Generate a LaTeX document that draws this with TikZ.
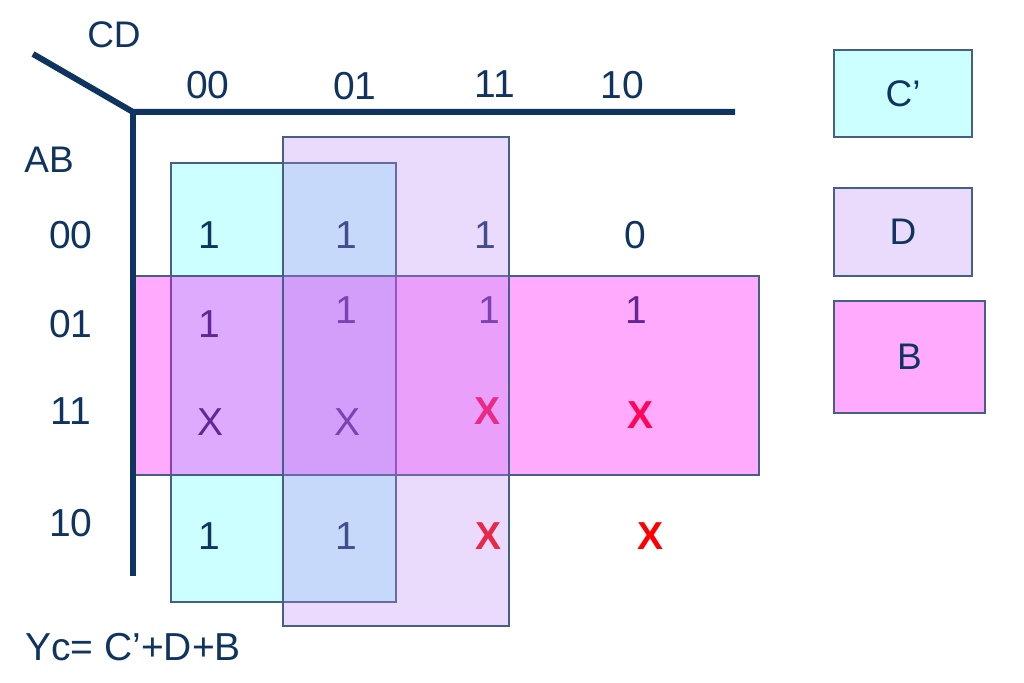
\documentclass[tikz,border=0pt]{standalone}
\usepackage{fontspec}
\setmainfont{Liberation Sans}
\definecolor{navy}{RGB}{16,52,96}
\definecolor{edge}{RGB}{70,95,135}
\definecolor{cyanf}{RGB}{204,255,255}
\definecolor{lavf}{RGB}{234,218,252}
\definecolor{pinkf}{RGB}{255,170,252}
\definecolor{lavt}{RGB}{185,132,245}
\definecolor{pinkt}{RGB}{255,12,250}
\definecolor{xred}{RGB}{255,0,0}
\begin{document}
\begin{tikzpicture}[x=1pt,y=-1pt,
  lbl/.style={inner sep=0pt, text=navy, font=\fontsize{37}{44}\selectfont},
  num/.style={inner sep=0pt, text=navy, font=\fontsize{39}{46}\selectfont},
  dc/.style={inner sep=0pt, text=xred, font=\fontsize{39}{46}\selectfont\bfseries},
  grp/.style={draw=edge, line width=1.2pt},
  key/.style={draw=edge, line width=1.2pt, inner sep=0pt, text=navy, font=\fontsize{37}{44}\selectfont},
  axis/.style={draw=navy, line width=6pt}]
\useasboundingbox (0,0) rectangle (1024,682);

% C' group (under the cell values)
\draw[grp, fill=cyanf] (171,163) rectangle (396,602);

% axis labels
\node[lbl] (cd) at (114,35) {CD};
\node[lbl] (ab) at (49,160) {AB};
\node[num] (c00) at (208,85) {00};
\node[num] (c01) at (355,86) {01};
\node[num] (c11) at (495,84) {11};
\node[num] (c10) at (622,85) {10};
\node[num] (r00) at (71,235) {00};
\node[num] (r01) at (71,324) {01};
\node[num] (r11) at (71,411) {11};
\node[num] (r10) at (71,523) {10};

% cell values
\node[num] (v0000) at (209,235) {1};
\node[num] (v0001) at (346,235) {1};
\node[num] (v0011) at (485,235) {1};
\node[num] (v0010) at (635,235) {0};
\node[num] (v0100) at (209,324) {1};
\node[num] (v0101) at (346,310) {1};
\node[num] (v0111) at (489,310) {1};
\node[num] (v0110) at (636,310) {1};
\node[num] (v1100) at (211,422) {X};
\node[num] (v1101) at (348,422) {X};
\node[dc]  (v1111) at (487,411) {X};
\node[dc]  (v1110) at (640,415) {X};
\node[num] (v1000) at (209,536) {1};
\node[num] (v1001) at (346,536) {1};
\node[dc]  (v1011) at (488,536) {X};
\node[dc]  (v1010) at (650,536) {X};

% B and D groups (translucent, over the values)
\draw[grp, fill=pinkt, fill opacity=0.35] (135,276) rectangle (759,475);
\draw[grp, fill=lavt, fill opacity=0.3] (283,137) rectangle (509,626);

% axes
\coordinate (o) at (133,112);
\coordinate (d) at (33,54);
\coordinate (h) at (735,112);
\coordinate (v) at (133,576);
\draw[axis] (d) -- (o) -- (h);
\draw[axis] (o) -- (v);

% legend
\node[key, fill=cyanf, minimum width=138pt, minimum height=87pt] (kc) at (903,93.5) {C’};
\node[key, fill=lavf, minimum width=138pt, minimum height=88pt] (kd) at (903,232) {D};
\node[key, fill=pinkf, minimum width=151pt, minimum height=112pt] (kb) at (909.5,357) {B};

% formula
\node[num, anchor=west] (yc) at (25,647) {Yc= C’+D+B};
\end{tikzpicture}
\end{document}
